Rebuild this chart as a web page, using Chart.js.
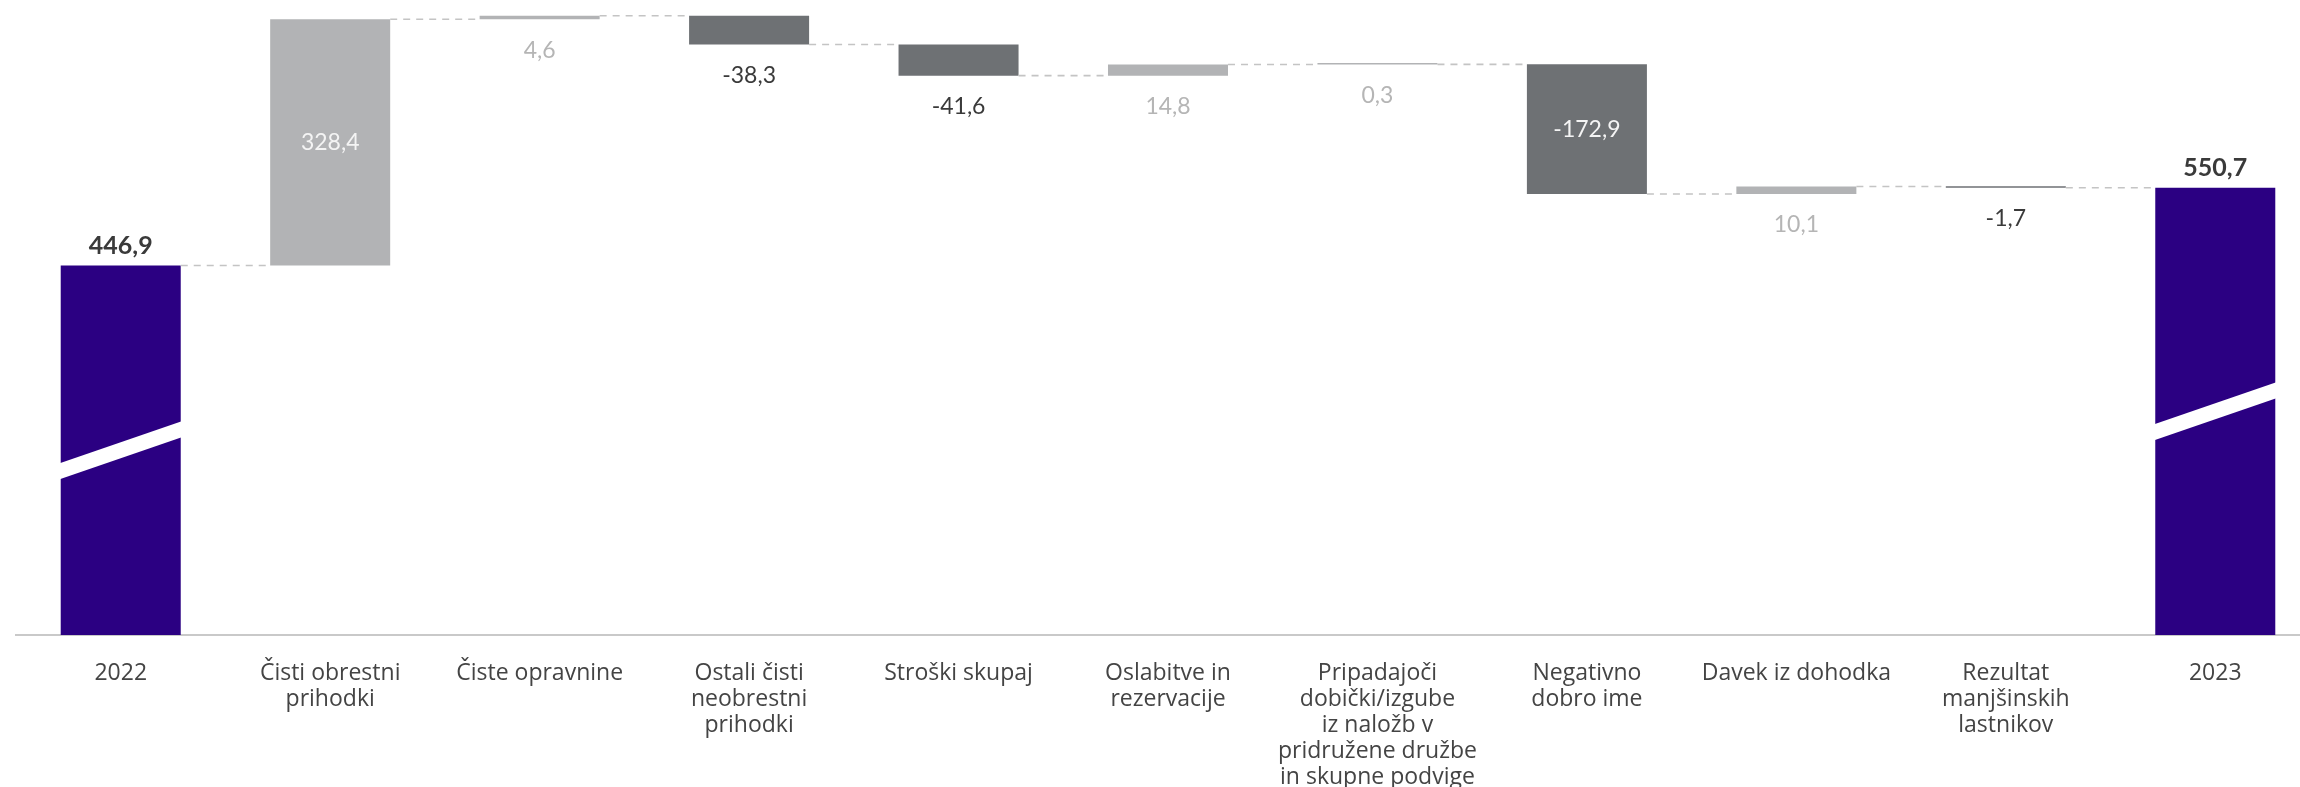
<!DOCTYPE html>
<html><head><meta charset="utf-8">
<script src="https://cdn.jsdelivr.net/npm/chart.js@4"></script>
<style>
html,body{margin:0;padding:0;background:#fff;overflow:hidden;}
#wrap{width:2320px;height:787px;position:relative;}
</style></head><body><div id="wrap"><canvas id="c"></canvas></div>
<script>
const categories = [
  '2022',
  ['Čisti obrestni', 'prihodki'],
  'Čiste opravnine',
  ['Ostali čisti', 'neobrestni', 'prihodki'],
  'Stroški skupaj',
  ['Oslabitve in', 'rezervacije'],
  ['Pripadajoči', 'dobički/izgube', 'iz naložb v', 'pridružene družbe', 'in skupne podvige'],
  ['Negativno', 'dobro ime'],
  'Davek iz dohodka',
  ['Rezultat', 'manjšinskih', 'lastnikov'],
  '2023'
];
const values = [446.9, 328.4, 4.6, -38.3, -41.6, 14.8, 0.3, -172.9, 10.1, -1.7, 550.7];
const kinds  = ['total','delta','delta','delta','delta','delta','delta','delta','delta','delta','total'];

const Y_MIN = -45.8, Y_MAX = 800.9;
const COLORS = { total: '#2b0082', up: '#b2b3b5', down: '#6e7174' };
const FONT = 'Lato, "Open Sans", sans-serif';
const TICK_FONT = '"Open Sans", Lato, sans-serif';

// build floating bars from the running total
const bars = [], ends = [];
let run = 0;
values.forEach((v, i) => {
  if (kinds[i] === 'total') { run = v; bars.push([Y_MIN, v]); }
  else { bars.push([run, run + v]); run += v; }
  ends.push(run);
});
const barColors = values.map((v, i) => kinds[i] === 'total' ? COLORS.total : (v >= 0 ? COLORS.up : COLORS.down));
const fmt = v => v.toFixed(1).replace('.', ',');

const connectors = {
  id: 'connectors',
  afterDatasetsDraw(chart) {
    const meta = chart.getDatasetMeta(0), ys = chart.scales.y, ctx = chart.ctx;
    ctx.save();
    ctx.strokeStyle = '#c4c4c4'; ctx.lineWidth = 1.6; ctx.setLineDash([7, 6]);
    for (let i = 0; i < values.length - 1; i++) {
      const a = meta.data[i], b = meta.data[i + 1];
      const y = ys.getPixelForValue(ends[i]);
      ctx.beginPath();
      ctx.moveTo(a.x + a.width / 2, y);
      ctx.lineTo(b.x - b.width / 2, y);
      ctx.stroke();
    }
    ctx.restore();
  }
};

const breaks = {
  id: 'breaks',
  afterDatasetsDraw(chart) {
    const meta = chart.getDatasetMeta(0), ctx = chart.ctx;
    ctx.save(); ctx.fillStyle = '#ffffff';
    values.forEach((v, i) => {
      if (kinds[i] !== 'total') return;
      const el = meta.data[i];
      const L = el.x - el.width / 2 - 1, R = el.x + el.width / 2 + 1;
      const mid = (el.y + el.base) / 2, rise = 21, half = 8;
      ctx.beginPath();
      ctx.moveTo(L, mid + rise - half);
      ctx.lineTo(R, mid - rise - half);
      ctx.lineTo(R, mid - rise + half);
      ctx.lineTo(L, mid + rise + half);
      ctx.closePath(); ctx.fill();
    });
    ctx.restore();
  }
};

const valueLabels = {
  id: 'valueLabels',
  afterDatasetsDraw(chart) {
    const meta = chart.getDatasetMeta(0), ctx = chart.ctx;
    ctx.save(); ctx.textAlign = 'center'; ctx.textBaseline = 'middle';
    values.forEach((v, i) => {
      const el = meta.data[i];
      const top = Math.min(el.y, el.base), bottom = Math.max(el.y, el.base);
      if (kinds[i] === 'total') {
        ctx.font = 'bold 25px ' + FONT; ctx.fillStyle = '#3a3a3a';
        ctx.fillText(fmt(v), el.x, top - 20);
      } else if (bottom - top > 80) {
        ctx.font = '23px ' + FONT; ctx.fillStyle = '#f4f4f4';
        ctx.fillText(fmt(v), el.x, (top + bottom) / 2);
      } else {
        ctx.font = '23px ' + FONT; ctx.fillStyle = v >= 0 ? '#b5b5b5' : '#3a3a3a';
        ctx.fillText(fmt(v), el.x, bottom + 31);
      }
    });
    ctx.restore();
  }
};

new Chart(document.getElementById('c'), {
  type: 'bar',
  data: {
    labels: categories,
    datasets: [{
      data: bars,
      backgroundColor: barColors,
      borderWidth: 0,
      barPercentage: 0.573,
      categoryPercentage: 1,
      minBarLength: 1.5
    }]
  },
  options: {
    responsive: true, maintainAspectRatio: false, animation: false,
    layout: { padding: { left: 16, right: 0, top: 0, bottom: 0 } },
    plugins: { legend: { display: false }, tooltip: { enabled: false } },
    scales: {
      x: {
        grid: { display: false, drawTicks: false },
        border: { display: true, color: '#c9c9c9', width: 2 },
        ticks: { color: '#444444', font: { family: TICK_FONT, size: 23, lineHeight: '26px' }, padding: 25, maxRotation: 0, minRotation: 0, autoSkip: false },
        afterFit: s => { s.height = 152; }
      },
      y: { display: false, min: Y_MIN, max: Y_MAX }
    }
  },
  plugins: [connectors, breaks, valueLabels]
});
</script></body></html>
